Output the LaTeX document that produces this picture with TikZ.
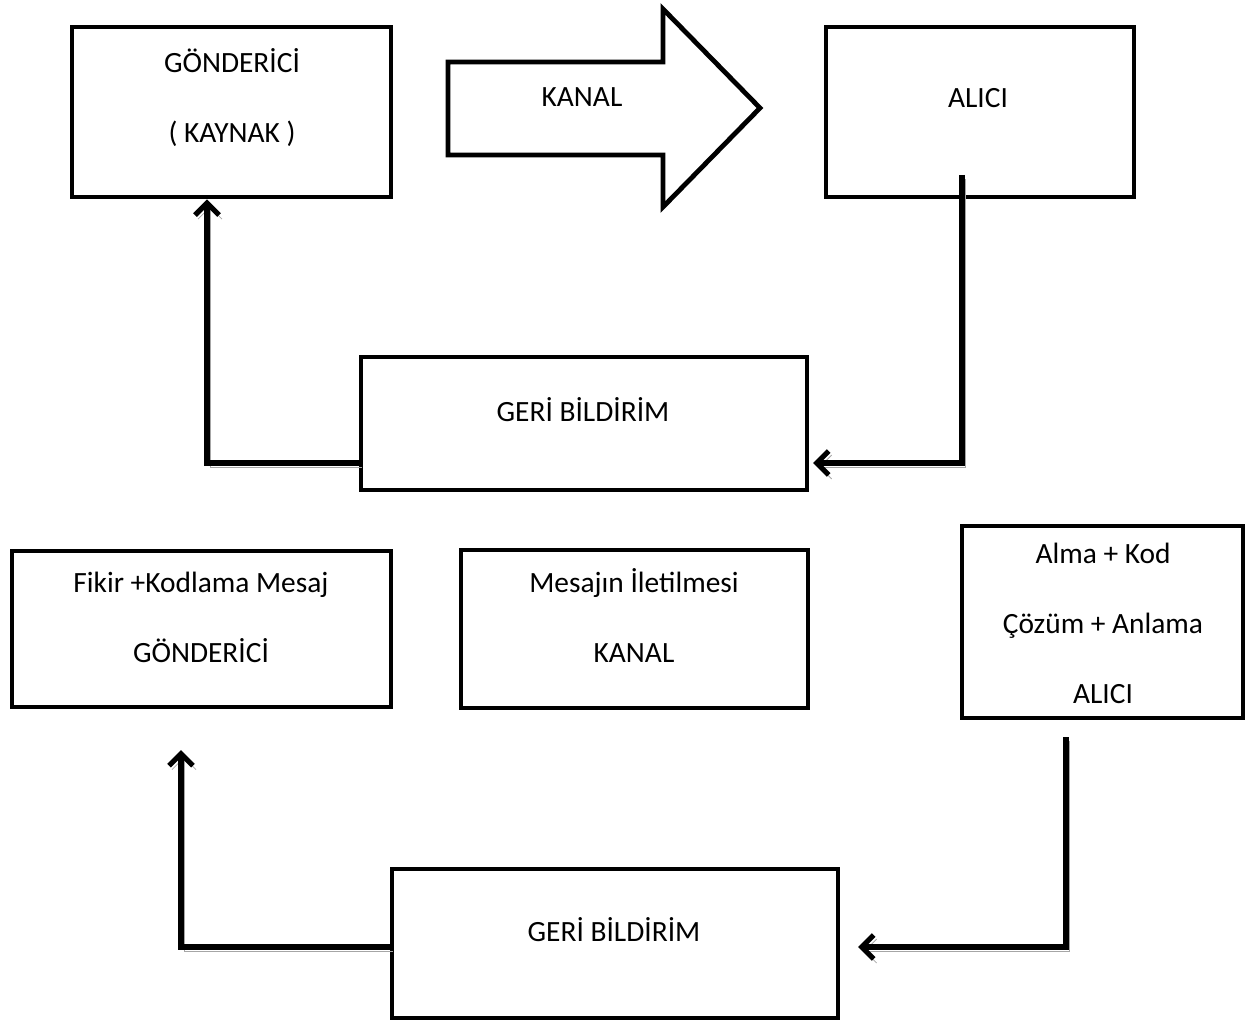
\documentclass[tikz,border=0pt]{standalone}
\usepackage{fontspec}
\setmainfont{Carlito}
\usetikzlibrary{arrows.meta}

\begin{document}
\begin{tikzpicture}[
    x=0.5pt,
    y=-0.5pt,
    >={Straight Barb[length=6pt,width=12pt]},
    font=\fontsize{14.7}{35}\selectfont,
    kutu/.style={
        draw,
        line width=2.4pt,
        inner sep=0pt
    },
    yazi/.style={
        align=center,
        inner sep=0pt
    },
    baglanti/.style={
        ->,
        line width=2.6pt,
        preaction={draw=black!35, transform canvas={shift={(1.5pt,-2pt)}}}
    }
]
    \useasboundingbox (0,0) rectangle (1248,1021);

    \node[kutu, minimum width=159.5pt, minimum height=85pt] (gonderici) at (231.5,112) {};
    \node[yazi] (gonderici-yazi) at (232,98) {GÖNDERİCİ\\( KAYNAK )};

    \draw[line width=2.4pt] (448,62) -- (663,62) -- (663,9) -- (760,108)
        -- (663,207) -- (663,155) -- (448,155) -- cycle;
    \node[yazi] (kanal-yazi) at (582,97) {KANAL};

    \node[kutu, minimum width=154pt, minimum height=85pt] (alici) at (980,112) {};
    \node[yazi] (alici-yazi) at (978,98) {ALICI};

    \node[kutu, line width=2pt, minimum width=223pt, minimum height=66.5pt] (geri1) at (584,423.5) {};
    \node[yazi] (geri1-yazi) at (583,410) {GERİ BİLDİRİM};

    \coordinate (a1) at (962,175);
    \coordinate (a2) at (962,463);
    \draw[baglanti, shorten >=2pt] (a1) -- (a2) -- (a2 -| geri1.east);

    \coordinate (b1) at (207,463);
    \draw[baglanti] (b1 -| geri1.west) -- (b1) -- (b1 |- gonderici.south);

    \node[kutu, minimum width=189.5pt, minimum height=78pt] (fikir) at (201.5,629) {};
    \node[yazi] (fikir-yazi) at (201,617) {Fikir +Kodlama Mesaj\\GÖNDERİCİ};

    \node[kutu, minimum width=173.5pt, minimum height=79pt] (mesaj) at (634.5,629) {};
    \node[yazi] (mesaj-yazi) at (634,616) {Mesajın İletilmesi\\KANAL};

    \node[kutu, minimum width=140.5pt, minimum height=96pt] (alma) at (1102.5,622) {};
    \node[yazi] (alma-yazi) at (1103,623) {Alma + Kod\\Çözüm + Anlama\\ALICI};

    \node[kutu, line width=2pt, minimum width=223pt, minimum height=74.5pt] (geri2) at (615,943.5) {};
    \node[yazi] (geri2-yazi) at (614,930) {GERİ BİLDİRİM};

    \coordinate (c1) at (1066,737);
    \coordinate (c2) at (1066,947);
    \draw[baglanti, shorten >=9pt] (c1) -- (c2) -- (c2 -| geri2.east);

    \coordinate (d1) at (181,947);
    \coordinate (d2) at (181,750);
    \draw[baglanti] (d1 -| geri2.west) -- (d1) -- (d2);
\end{tikzpicture}
\end{document}
